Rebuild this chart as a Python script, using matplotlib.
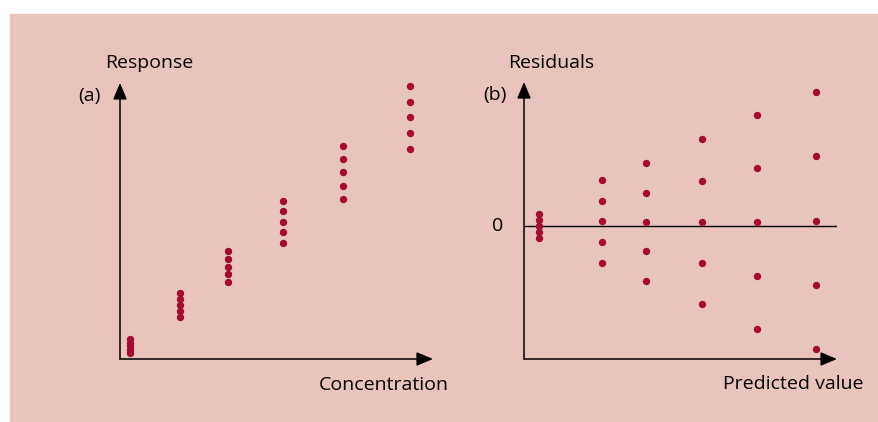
import matplotlib
matplotlib.use('Agg')
import matplotlib.pyplot as plt
from matplotlib.patches import Rectangle

plt.rcParams['font.family'] = ['Open Sans', 'DejaVu Sans']

W, H = 879, 422
BG = '#e8c4bd'
DOT = '#a50a30'

# panel (a): concentration levels and replicate responses
concentration = [10, 60, 108, 163, 223, 290]
response = [
    [6, 9.5, 13, 16.5, 20],
    [42, 48, 54, 60, 66],
    [77, 85, 92, 100, 108],
    [116, 127, 137, 148, 158],
    [160, 173, 187, 200, 213],
    [210, 226, 242, 257, 273],
]

# panel (b): predicted values and residuals
predicted = [15, 78, 122, 178, 233, 292]
residuals = [
    [-12, -6, 0, 6, 12],
    [-37, -16, 5, 25, 46],
    [-55, -25, 4, 33, 63],
    [-78, -37, 4, 45, 87],
    [-103, -50, 4, 58, 111],
    [-123, -59, 5, 70, 134],
]


def fx(px):
    return px / W


def fy(py):
    return 1 - py / H


def add_axes_box(fig, left, top, right, bottom):
    return fig.add_axes([fx(left), fy(bottom), (right - left) / W, (bottom - top) / H])


def draw_arrows(ax):
    arrow = dict(arrowstyle='-|>,head_length=1.0,head_width=0.42', color='black',
                 lw=1.1, shrinkA=0, shrinkB=0)
    ax.annotate('', xy=(1, 0), xytext=(0, 0), xycoords='axes fraction', arrowprops=arrow)
    ax.annotate('', xy=(0, 1), xytext=(0, 0), xycoords='axes fraction', arrowprops=arrow)


def plot_groups(ax, xs, groups):
    for x, ys in zip(xs, groups):
        ax.plot([x] * len(ys), ys, 'o', color=DOT, markersize=5.3, markeredgewidth=0,
                clip_on=False, zorder=3)


fig = plt.figure(figsize=(W / 100, H / 100), dpi=100)
fig.patch.set_facecolor('white')
fig.add_artist(Rectangle((fx(10), 0), 1 - fx(10), fy(14), transform=fig.transFigure,
                         color=BG, zorder=0))

ax_a = add_axes_box(fig, 120, 83, 433, 359)
ax_a.set_xlim(0, 313)
ax_a.set_ylim(0, 276)
plot_groups(ax_a, concentration, response)

ax_b = add_axes_box(fig, 524, 82, 837, 359)
ax_b.set_xlim(0, 313)
ax_b.set_ylim(-133, 144)
ax_b.axhline(0, color='black', lw=1.0, zorder=2)
plot_groups(ax_b, predicted, residuals)

for ax in (ax_a, ax_b):
    ax.set_facecolor('none')
    ax.axis('off')
    draw_arrows(ax)

fs = 14
fig.text(fx(105), fy(63), 'Response', fontsize=fs, va='center', ha='left')
fig.text(fx(101), fy(96), '(a)', fontsize=fs, va='center', ha='right')
fig.text(fx(319), fy(385), 'Concentration', fontsize=fs, va='center', ha='left')
fig.text(fx(508), fy(63), 'Residuals', fontsize=fs, va='center', ha='left')
fig.text(fx(507), fy(95), '(b)', fontsize=fs, va='center', ha='right')
fig.text(fx(498), fy(226), '0', fontsize=fs, va='center', ha='center')
fig.text(fx(723), fy(384), 'Predicted value', fontsize=fs, va='center', ha='left')

fig.savefig('out.png', dpi=100)
